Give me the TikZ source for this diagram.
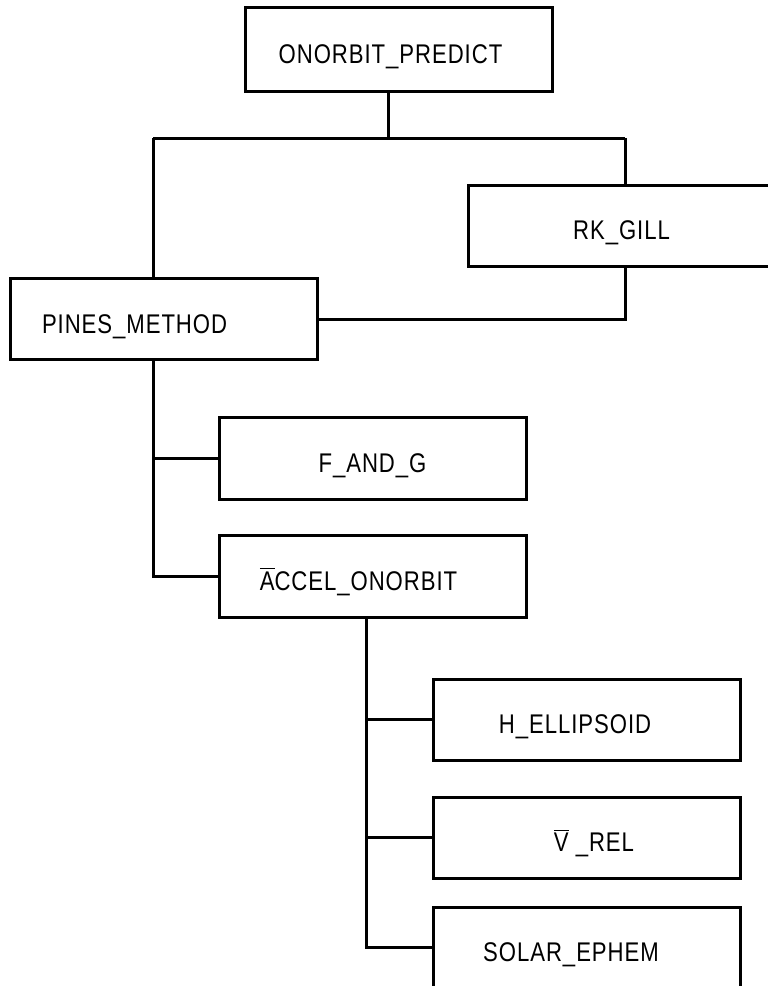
\documentclass[tikz,border=0pt]{standalone}
\usepackage{fontspec}
\usepackage{tikz}
\usetikzlibrary{positioning, calc}
\newfontfamily\boxfont[FakeStretch=0.82, LetterSpace=3.5]{Liberation Sans}

\begin{document}
\begin{tikzpicture}[
  x=0.5pt, y=-0.5pt,
  mod_box/.style={rectangle, draw=black, line width=1.5pt, minimum width=153.5pt, minimum height=40.5pt, inner sep=0pt, text height=14pt, text depth=0pt, text centered, font=\boxfont\fontsize{13.5}{16}\selectfont},
  ln/.style={line width=1.5pt, color=black}
]
\useasboundingbox (0,0) rectangle (767,986);

% Top level
\node[mod_box, minimum height=42pt] (predict) at (398.5, 49) {\hspace*{-8pt}ONORBIT\_PREDICT};
\node[mod_box] (rkgill) at (621.5, 225.5) {RK\_GILL};
\node[mod_box, text width=121.5pt, align=left, inner xsep=16pt] (pines) at (163.5, 319) {PINES\_METHOD};

% Pines children
\node[mod_box, minimum height=41pt] (fandg) at (372.5, 458) {F\_AND\_G};
\node[mod_box, minimum height=41pt] (accel) at (372.5, 576) {\hspace*{-14pt}$\overline{\mbox{A}}$CCEL\_ONORBIT};

% Accel children
\node[mod_box] (hell) at (587, 719.5) {\hspace*{-12pt}H\_ELLIPSOID};
\node[mod_box] (vrel) at (587, 837.5) {\hspace*{7pt}$\overline{\mbox{V}}$\ \_REL};
\node[mod_box] (solar) at (587, 947.5) {\hspace*{-16pt}SOLAR\_EPHEM};

% Trunk
\coordinate (bus) at (388, 138);
\coordinate (trunkL) at (153, 138);
\coordinate (trunkR) at (625, 138);
\coordinate (spineB) at (366, 0);

\draw[ln] (predict.south -| bus) -- (bus);
\draw[ln] (trunkL) -- (trunkR);
\draw[ln] (trunkL) -- (trunkL |- pines.north);
\draw[ln] (trunkR) -- (trunkR |- rkgill.north);
\draw[ln] (rkgill.south -| trunkR) |- (pines.east);

% Pines branches
\draw[ln] (pines.south -| trunkL) |- (accel.west);
\draw[ln] (trunkL |- fandg.west) -- (fandg.west);

% Accel branches
\draw[ln] (accel.south -| spineB) |- (solar.west);
\draw[ln] (spineB |- hell.west) -- (hell.west);
\draw[ln] (spineB |- vrel.west) -- (vrel.west);

\end{tikzpicture}
\end{document}
